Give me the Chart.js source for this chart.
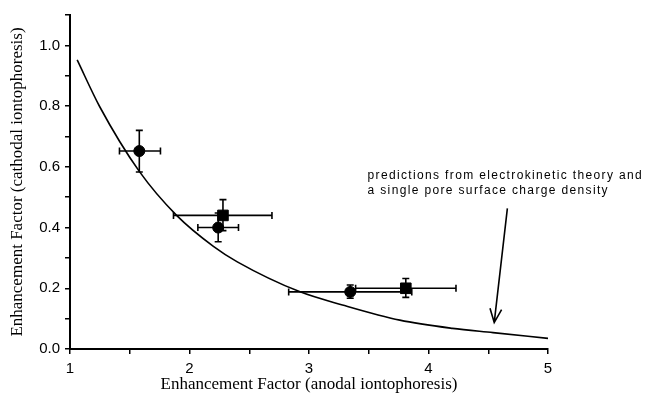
<!DOCTYPE html>
<html>
<head>
<meta charset="utf-8">
<script src="https://cdn.jsdelivr.net/npm/chart.js@4/dist/chart.umd.min.js"></script>
<style>
    html, body { margin: 0; padding: 0; background: #fff; }
    #wrap { width: 648px; height: 393px; }
</style>
</head>
<body>
<div id="wrap"><canvas id="enhChart" width="648" height="393"></canvas></div>
<script>
// theory curve
const curveX = [1.06, 1.25, 1.58, 1.89, 2.2, 2.4, 2.92, 3.28, 3.76, 4.2, 4.54, 5.0];
const curveY = [0.952, 0.797, 0.585, 0.441, 0.338, 0.287, 0.189, 0.145, 0.095, 0.068, 0.054, 0.035];

// circles
const circleX = [1.58, 2.24, 3.345];
const circleY = [0.652, 0.40, 0.188];
const circleXLow = [1.414, 2.07, 2.83];
const circleXHigh = [1.757, 2.41, 3.86];
const circleYLow = [0.583, 0.353, 0.167];
const circleYHigh = [0.72, 0.448, 0.211];

// squares
const squareX = [2.28, 3.81];
const squareY = [0.44, 0.20];
const squareXLow = [1.866, 3.39];
const squareXHigh = [2.69, 4.23];
const squareYLow = [0.39, 0.17];
const squareYHigh = [0.492, 0.232];

// annotation
const noteLines = ['predictions from electrokinetic theory and', 'a single pore surface charge density'];
const noteX = 3.49;
const noteY = [0.572, 0.521];
const arrowFrom = [4.66, 0.463];
const arrowTo = [4.55, 0.087];

const toPoints = (xs, ys) => xs.map((x, i) => ({x: x, y: ys[i]}));

const errorBars = [
    {x: circleX, y: circleY, xl: circleXLow, xh: circleXHigh, yl: circleYLow, yh: circleYHigh},
    {x: squareX, y: squareY, xl: squareXLow, xh: squareXHigh, yl: squareYLow, yh: squareYHigh}
];

const errorBarPlugin = {
    id: 'errorBars',
    beforeDatasetsDraw(chart) {
        const ctx = chart.ctx;
        const xs = chart.scales.x, ys = chart.scales.y;
        const cap = 3.5;
        ctx.save();
        ctx.strokeStyle = '#000';
        ctx.lineWidth = 1.6;
        errorBars.forEach(set => {
            set.x.forEach((x, i) => {
                const px = xs.getPixelForValue(x), py = ys.getPixelForValue(set.y[i]);
                const x1 = xs.getPixelForValue(set.xl[i]), x2 = xs.getPixelForValue(set.xh[i]);
                const y1 = ys.getPixelForValue(set.yl[i]), y2 = ys.getPixelForValue(set.yh[i]);
                ctx.beginPath();
                ctx.moveTo(x1, py); ctx.lineTo(x2, py);
                ctx.moveTo(x1, py - cap); ctx.lineTo(x1, py + cap);
                ctx.moveTo(x2, py - cap); ctx.lineTo(x2, py + cap);
                ctx.moveTo(px, y1); ctx.lineTo(px, y2);
                ctx.moveTo(px - cap, y1); ctx.lineTo(px + cap, y1);
                ctx.moveTo(px - cap, y2); ctx.lineTo(px + cap, y2);
                ctx.stroke();
            });
        });
        ctx.restore();
    }
};

const notePlugin = {
    id: 'note',
    afterDraw(chart) {
        const ctx = chart.ctx;
        const xs = chart.scales.x, ys = chart.scales.y;
        ctx.save();
        ctx.fillStyle = '#000';
        ctx.font = '12px "Liberation Sans", Arial, sans-serif';
        ctx.letterSpacing = '1.35px';
        ctx.textAlign = 'left';
        ctx.textBaseline = 'middle';
        noteLines.forEach((t, i) => {
            ctx.fillText(t, xs.getPixelForValue(noteX), ys.getPixelForValue(noteY[i]));
        });

        // arrow
        const ax = xs.getPixelForValue(arrowFrom[0]), ay = ys.getPixelForValue(arrowFrom[1]);
        const bx = xs.getPixelForValue(arrowTo[0]), by = ys.getPixelForValue(arrowTo[1]);
        const ang = Math.atan2(by - ay, bx - ax);
        const head = 15, spread = 0.4;
        ctx.strokeStyle = '#000';
        ctx.lineWidth = 1.6;
        ctx.beginPath();
        ctx.moveTo(ax, ay); ctx.lineTo(bx, by);
        ctx.moveTo(bx - head * Math.cos(ang - spread), by - head * Math.sin(ang - spread));
        ctx.lineTo(bx, by);
        ctx.lineTo(bx - head * Math.cos(ang + spread), by - head * Math.sin(ang + spread));
        ctx.stroke();
        ctx.restore();
    }
};

const tickFont = {family: '"Liberation Sans", Arial, sans-serif', size: 15};
const titleFont = {family: '"Liberation Serif", "Times New Roman", serif', size: 17, lineHeight: 1};

new Chart(document.getElementById('enhChart').getContext('2d'), {
    type: 'scatter',
    data: {
        datasets: [
            {
                label: 'circles',
                data: toPoints(circleX, circleY),
                pointStyle: 'circle',
                pointRadius: 5.5,
                backgroundColor: '#000',
                borderColor: '#000'
            },
            {
                label: 'squares',
                data: toPoints(squareX, squareY),
                pointStyle: 'rect',
                pointRadius: 7.5,
                backgroundColor: '#000',
                borderColor: '#000'
            },
            {
                label: 'theory',
                data: toPoints(curveX, curveY),
                showLine: true,
                pointRadius: 0,
                borderColor: '#000',
                borderWidth: 1.6,
                cubicInterpolationMode: 'monotone'
            }
        ]
    },
    options: {
        responsive: false,
        animation: false,
        events: [],
        layout: { padding: { top: 15, right: 100, left: 0, bottom: 0 } },
        plugins: {
            legend: { display: false },
            tooltip: { enabled: false }
        },
        scales: {
            x: {
                type: 'linear',
                min: 1,
                max: 5,
                afterFit: s => { s.height = 44; },
                border: { color: '#000', width: 2 },
                grid: { drawOnChartArea: false, color: '#000', tickLength: 5, lineWidth: 1.5 },
                ticks: {
                    stepSize: 0.5,
                    padding: 6,
                    color: '#000',
                    font: tickFont,
                    maxRotation: 0,
                    autoSkip: false,
                    callback: v => Number.isInteger(v) ? String(v) : ''
                },
                title: {
                    display: true,
                    text: 'Enhancement Factor (anodal iontophoresis)',
                    color: '#000',
                    font: titleFont,
                    padding: { top: 0, bottom: 0 }
                }
            },
            y: {
                type: 'linear',
                min: 0,
                max: 1.1,
                afterFit: s => { s.width = 70; },
                border: { color: '#000', width: 2 },
                grid: { drawOnChartArea: false, color: '#000', tickLength: 5, lineWidth: 1.5 },
                ticks: {
                    stepSize: 0.1,
                    padding: 5,
                    color: '#000',
                    font: tickFont,
                    autoSkip: false,
                    callback: v => Math.round(v * 10) % 2 === 0 ? v.toFixed(1) : ''
                },
                title: {
                    display: true,
                    text: 'Enhancement Factor (cathodal iontophoresis)',
                    color: '#000',
                    font: titleFont,
                    padding: { top: 9, bottom: 0 }
                }
            }
        }
    },
    plugins: [errorBarPlugin, notePlugin]
});
</script>
</body>
</html>
